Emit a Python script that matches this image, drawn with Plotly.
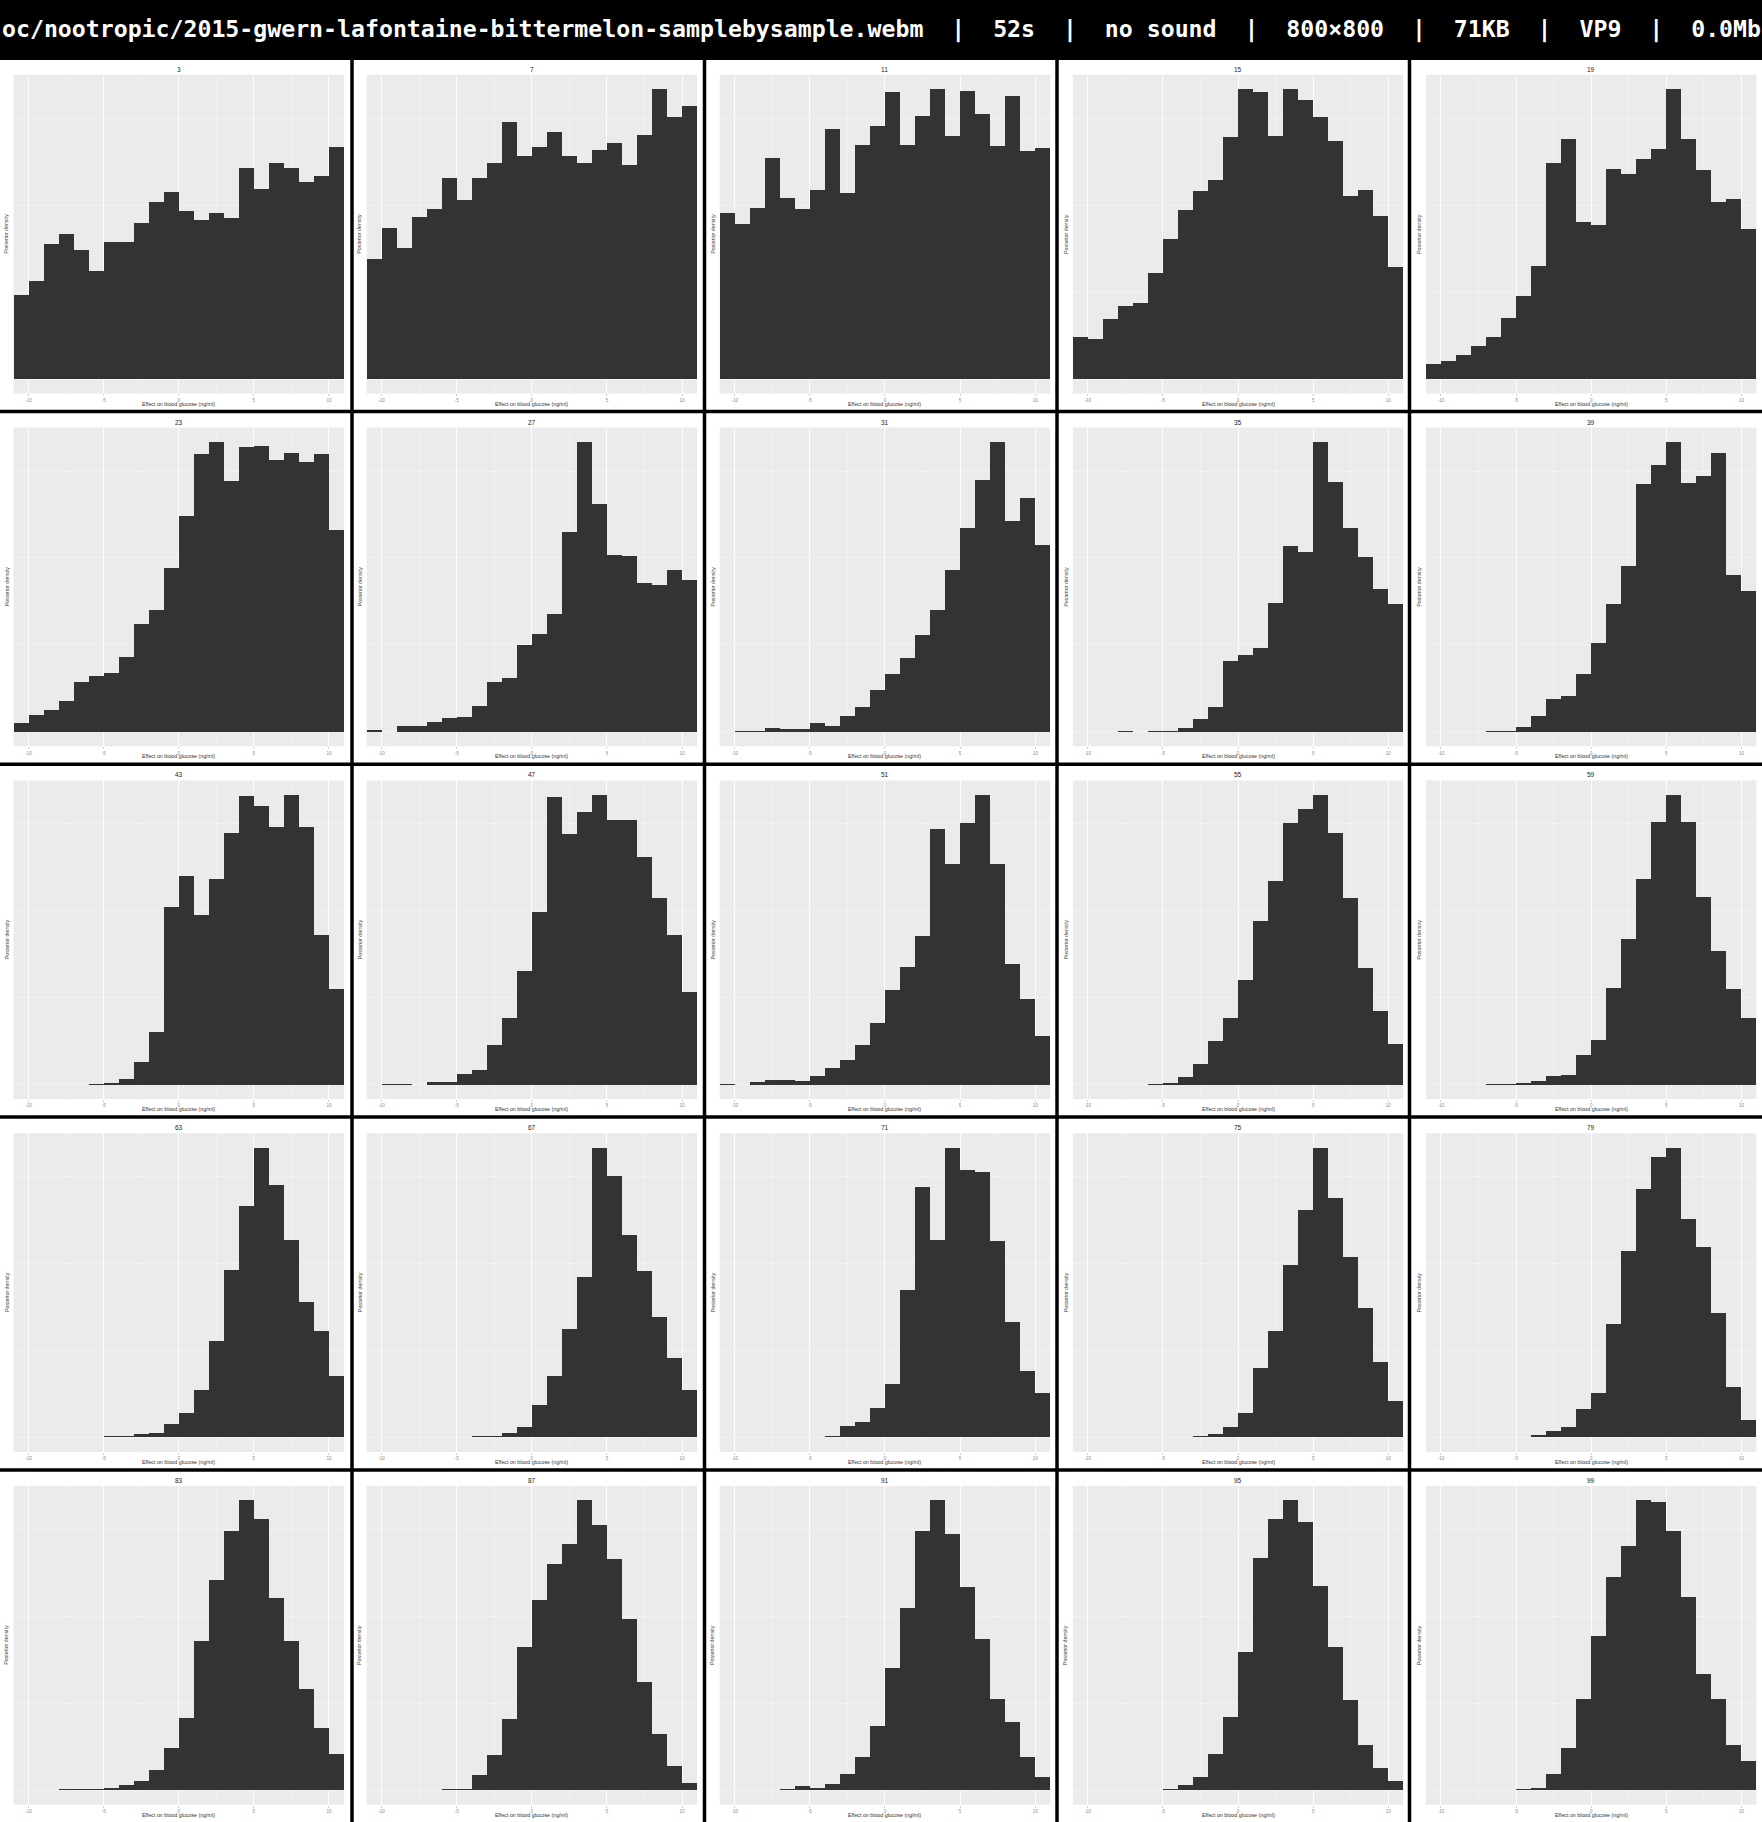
import plotly.graph_objects as go

# ---------------- data ----------------
FRAMES = [3, 7, 11, 15, 19, 23, 27, 31, 35, 39, 43, 47, 51, 55, 59,
          63, 67, 71, 75, 79, 83, 87, 91, 95, 99]
BIN_EDGES = list(range(-11, 12))
X_TICKS = [-10, -5, 0, 5, 10]
X_TICK_LABELS = ["-10", "-5", "0", "5", "10"]
X_MINOR = [-7.5, -2.5, 2.5, 7.5]

# bar heights (relative units, tallest bar of the full histogram = 100)
h3 = [29.0, 33.8, 46.6, 50.0, 44.5, 37.4, 47.2, 47.2, 53.7, 61.0, 64.6, 58.1, 54.8, 57.4, 55.6, 73.0, 65.7, 74.6, 72.7, 68.1, 70.1, 80.2]
h7 = [41.4, 52.0, 45.2, 55.8, 58.8, 69.4, 61.7, 69.4, 74.6, 88.8, 77.0, 80.0, 85.2, 77.0, 74.6, 79.2, 81.4, 73.9, 84.2, 100, 90.3, 94.1]
h11 = [57.2, 53.5, 58.9, 76.3, 62.4, 58.8, 65.2, 86.3, 64.1, 80.9, 87.2, 99.2, 80.9, 90.7, 100, 83.9, 99.5, 91.5, 80.4, 97.7, 78.6, 79.7]
h15 = [14.6, 13.9, 20.7, 25.3, 26.4, 36.5, 48.2, 58.2, 65.0, 68.8, 83.5, 100, 99.2, 84.0, 100, 96.3, 90.4, 82.3, 63.1, 65.4, 56.3, 38.7]
h19 = [5.1, 6.2, 8.2, 11.5, 14.5, 20.9, 28.7, 39.0, 74.5, 82.7, 54.1, 53.2, 72.5, 70.7, 76.1, 79.5, 100, 82.7, 72.0, 61.2, 62.3, 51.7]
h23 = [3.1, 5.8, 7.4, 10.6, 17.3, 19.2, 20.4, 25.8, 37.1, 42.0, 56.7, 74.6, 96.0, 100, 86.4, 98.2, 98.6, 93.7, 96.1, 93.3, 96.0, 69.6]
h27 = [0.6, 0, 2.0, 2.0, 3.4, 4.6, 5.2, 8.9, 17.2, 18.6, 30.1, 33.6, 40.6, 69.0, 100, 78.5, 60.9, 60.7, 51.4, 50.8, 56.0, 52.5]
h31 = [0, 0.35, 0.35, 1.15, 0.8, 0.8, 3.1, 2.1, 5.5, 8.5, 14.6, 20.0, 25.4, 33.3, 42.0, 55.8, 70.2, 86.8, 100, 72.6, 80.6, 64.4]
h35 = [0, 0, 0, 0.3, 0, 0.3, 0.4, 1.4, 4.3, 8.5, 24.5, 26.4, 29.0, 44.5, 64.3, 62.1, 100, 86.1, 70.3, 60.4, 49.4, 44.0]
h39 = [0, 0, 0, 0, 0.3, 0.3, 1.8, 5.3, 11.3, 12.3, 20.0, 30.8, 44.0, 57.4, 85.7, 92.2, 100, 85.8, 88.4, 96.3, 54.2, 48.7]
h43 = [0, 0, 0, 0, 0, 0.3, 0.7, 2.1, 7.7, 18.1, 61.3, 71.9, 58.6, 70.8, 86.8, 99.7, 96.1, 89.0, 100, 88.8, 51.6, 33.0]
h47 = [0, 0.3, 0.3, 0, 0.8, 0.8, 3.6, 5.0, 13.6, 23.0, 39.2, 59.6, 99.2, 86.5, 94.0, 100, 91.3, 91.3, 78.5, 64.4, 51.7, 31.9]
h51 = [0.3, 0, 0.8, 1.5, 1.5, 1.2, 2.9, 5.8, 8.5, 13.5, 21.3, 32.7, 40.5, 51.2, 88.2, 76.0, 90.3, 100, 76.0, 41.7, 29.7, 16.9]
h55 = [0, 0, 0, 0, 0, 0.3, 0.7, 2.5, 7.1, 15.0, 23.0, 36.1, 56.4, 70.4, 90.4, 95.0, 100, 86.7, 64.3, 40.4, 25.4, 13.9]
h59 = [0, 0, 0, 0, 0.3, 0.3, 0.6, 1.3, 3.1, 3.3, 10.3, 15.5, 33.3, 50.3, 70.8, 90.6, 100, 90.8, 64.9, 46.0, 33.0, 23.0]
h63 = [0, 0, 0, 0, 0, 0, 0.4, 0.6, 1.2, 1.6, 4.5, 8.4, 16.3, 33.4, 57.8, 80.0, 100, 87.2, 68.0, 46.7, 36.9, 21.2]
h67 = [0, 0, 0, 0, 0, 0, 0, 0.4, 0.6, 1.5, 3.7, 11.3, 21.3, 37.3, 55.4, 100, 90.2, 70.0, 57.3, 41.5, 27.4, 16.5]
h71 = [0, 0, 0, 0, 0, 0, 0.3, 0.4, 3.8, 5.2, 10.2, 18.4, 50.9, 86.4, 68.0, 100, 92.2, 91.5, 67.7, 39.7, 23.0, 15.2]
h75 = [0, 0, 0, 0, 0, 0, 0, 0, 0.6, 1.2, 3.5, 8.5, 23.9, 36.6, 59.6, 78.6, 100, 82.6, 62.1, 44.5, 25.9, 12.4]
h79 = [0, 0, 0, 0, 0, 0, 0, 0.9, 2.3, 3.6, 9.8, 15.4, 39.0, 64.3, 85.7, 96.7, 100, 75.4, 65.6, 42.9, 17.5, 6.0]
h83 = [0, 0, 0, 0.3, 0.3, 0.4, 0.8, 1.7, 3.1, 6.9, 14.7, 24.9, 51.6, 72.5, 89.4, 100, 93.6, 66.4, 51.6, 35.0, 21.6, 12.5]
h87 = [0, 0, 0, 0, 0, 0.4, 0.5, 5.4, 12.2, 24.7, 49.6, 65.7, 78.1, 85.0, 100, 91.6, 79.9, 59.0, 37.3, 19.4, 8.3, 2.4]
h91 = [0, 0, 0, 0, 0.4, 1.5, 0.9, 2.2, 5.5, 11.5, 22.3, 42.3, 62.9, 89.5, 100, 88.5, 70.0, 52.2, 31.5, 23.7, 11.4, 4.7]
h95 = [0, 0, 0, 0, 0, 0, 0.4, 1.8, 4.6, 12.4, 25.1, 47.6, 80.2, 93.6, 100, 92.7, 70.4, 49.4, 31.2, 15.6, 7.8, 3.1]
h99 = [0, 0, 0, 0, 0, 0, 0.4, 0.9, 5.5, 14.6, 31.5, 53.3, 73.5, 84.3, 100, 99.4, 89.5, 66.8, 40.0, 31.5, 15.6, 10.1]

HEIGHTS = [h3, h7, h11, h15, h19, h23, h27, h31, h35, h39, h43, h47, h51,
           h55, h59, h63, h67, h71, h75, h79, h83, h87, h91, h95, h99]

HEADER = ("oc/nootropic/2015-gwern-lafontaine-bittermelon-samplebysample.webm"
          "  |  52s  |  no sound  |  800×800  |  71KB  |  VP9  |  0.0Mb")
X_TITLE = "Effect on blood glucose (ng/ml)"
Y_TITLE = "Posterior density"

# ---------------- layout geometry (pixels) ----------------
W, H = 1762, 1822
NCOL = 5
PANEL_LEFT0, COL_PITCH, PANEL_W = 13.5, 353.1, 330.5
BASE0, ROW_PITCH = 379.0, 352.8
PX_PER_UNIT = 2.897
Y_LO, Y_HI = -5, 105
HEADER_H = 60
V_LINES = [352.0, 704.5, 1057.0, 1409.5]
H_LINES = [411.5, 764.3, 1117.1, 1469.9]

def px(x):
    return x / W

def py(y):
    return 1 - y / H

centers = [(a + b) / 2 for a, b in zip(BIN_EDGES[:-1], BIN_EDGES[1:])]

fig = go.Figure()
annotations = []
shapes = []
layout_axes = {}

for i, (frame, h) in enumerate(zip(FRAMES, HEIGHTS)):
    r, c = divmod(i, NCOL)
    n = i + 1
    xa = "x" if n == 1 else f"x{n}"
    ya = "y" if n == 1 else f"y{n}"
    left = PANEL_LEFT0 + COL_PITCH * c
    right = left + PANEL_W
    base = BASE0 + ROW_PITCH * r
    top = base - Y_HI * PX_PER_UNIT
    bottom = base - Y_LO * PX_PER_UNIT

    fig.add_trace(go.Bar(
        x=centers, y=h, width=1,
        marker=dict(color="#333333", line=dict(width=0)),
        xaxis=xa, yaxis=ya, showlegend=False, hoverinfo="skip",
    ))

    layout_axes["xaxis" if n == 1 else f"xaxis{n}"] = dict(
        domain=[px(left), px(right)], anchor=ya,
        range=[BIN_EDGES[0], BIN_EDGES[-1]],
        tickmode="array", tickvals=X_TICKS, ticktext=X_TICK_LABELS,
        tickfont=dict(size=4.5, color="#8c8c8c", family="Liberation Sans"),
        ticks="outside", ticklen=2, tickwidth=0.6, tickcolor="#b0b0b0",
        showgrid=True, gridcolor="#ffffff", gridwidth=0.9,
        minor=dict(tickvals=X_MINOR, showgrid=True, gridcolor="#f7f7f7", gridwidth=0.5, ticks=""),
        zeroline=False, showline=False, fixedrange=True,
    )
    layout_axes["yaxis" if n == 1 else f"yaxis{n}"] = dict(
        domain=[py(bottom), py(top)], anchor=xa,
        range=[Y_LO, Y_HI],
        showticklabels=False, ticks="",
        showgrid=True, gridcolor="#f5f5f5", gridwidth=0.7, dtick=30,
        zeroline=False, showline=False, fixedrange=True,
    )

    cx = (left + right) / 2
    annotations.append(dict(
        text=str(frame), x=px(cx), y=py(top - 5.5), xref="paper", yref="paper",
        showarrow=False, xanchor="center", yanchor="middle",
        font=dict(size=6.5, color="#222222", family="Liberation Sans"),
    ))
    annotations.append(dict(
        text=X_TITLE, x=px(cx), y=py(base + 24.5), xref="paper", yref="paper",
        showarrow=False, xanchor="center", yanchor="middle",
        font=dict(size=5.3, color="#333333", family="Liberation Sans"),
    ))
    annotations.append(dict(
        text=Y_TITLE, x=px(left - 7), y=py((top + bottom) / 2), xref="paper", yref="paper",
        showarrow=False, xanchor="center", yanchor="middle", textangle=-90,
        font=dict(size=5.3, color="#444444", family="Liberation Sans"),
    ))

# header bar
shapes.append(dict(type="rect", xref="paper", yref="paper",
                   x0=0, x1=1, y0=py(HEADER_H), y1=1,
                   fillcolor="#000000", line=dict(width=0), layer="above"))
annotations.append(dict(
    text=HEADER.replace(" ", "\u00a0"), x=px(0), y=py(29.5), xref="paper", yref="paper",
    showarrow=False, xanchor="left", yanchor="middle",
    font=dict(size=23.2, color="#ffffff", family="DejaVu Sans Mono", weight="bold"),
))
# tile separators
for xv in V_LINES:
    shapes.append(dict(type="line", xref="paper", yref="paper",
                       x0=px(xv), x1=px(xv), y0=py(HEADER_H), y1=0,
                       line=dict(color="#000000", width=3.5), layer="above"))
for yv in H_LINES:
    shapes.append(dict(type="line", xref="paper", yref="paper",
                       x0=0, x1=1, y0=py(yv), y1=py(yv),
                       line=dict(color="#000000", width=3.5), layer="above"))

fig.update_layout(
    width=W, height=H,
    margin=dict(l=0, r=0, t=0, b=0, pad=0),
    paper_bgcolor="#ffffff", plot_bgcolor="#EBEBEB",
    bargap=0, showlegend=False,
    annotations=annotations, shapes=shapes,
    **layout_axes,
)

fig.write_html(
    "out.html",
    config={"displayModeBar": False, "staticPlot": True},
    post_script="document.body.style.margin='0';document.body.style.padding='0';"
                "document.documentElement.style.margin='0';document.body.style.overflow='hidden';",
)
